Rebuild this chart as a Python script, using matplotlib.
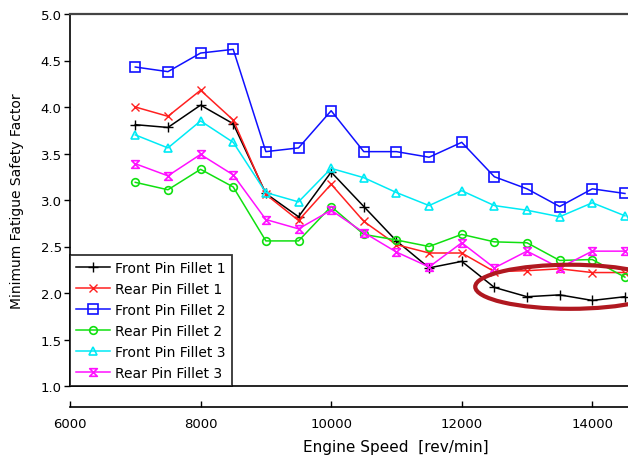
import matplotlib
matplotlib.use('Agg')
import matplotlib.pyplot as plt
from matplotlib.patches import Ellipse
from matplotlib.path import Path

plt.rcParams['font.family'] = ['DejaVu Sans']

# engine speed [rev/min] and minimum fatigue safety factor per fillet
rpm = [7000, 7500, 8000, 8500, 9000, 9500, 10000, 10500,
       11000, 11500, 12000, 12500, 13000, 13500, 14000, 14500]
front1 = [3.81, 3.78, 4.02, 3.82, 3.07, 2.82, 3.30, 2.93,
          2.56, 2.27, 2.34, 2.06, 1.96, 1.98, 1.92, 1.96]
rear1 = [4.00, 3.90, 4.18, 3.86, 3.06, 2.78, 3.17, 2.77,
         2.52, 2.43, 2.43, 2.23, 2.24, 2.26, 2.22, 2.22]
front2 = [4.43, 4.38, 4.58, 4.62, 3.52, 3.56, 3.96, 3.52,
          3.52, 3.46, 3.62, 3.25, 3.12, 2.93, 3.12, 3.07]
rear2 = [3.19, 3.11, 3.33, 3.14, 2.56, 2.56, 2.93, 2.63,
         2.57, 2.50, 2.63, 2.55, 2.54, 2.35, 2.36, 2.17]
front3 = [3.70, 3.56, 3.85, 3.62, 3.08, 2.98, 3.34, 3.24,
          3.08, 2.94, 3.10, 2.94, 2.89, 2.82, 2.97, 2.83]
rear3 = [3.39, 3.26, 3.49, 3.27, 2.79, 2.69, 2.89, 2.65,
         2.44, 2.28, 2.54, 2.27, 2.45, 2.27, 2.45, 2.45]

labels = ['Front Pin Fillet 1', 'Rear Pin Fillet 1', 'Front Pin Fillet 2',
          'Rear Pin Fillet 2', 'Front Pin Fillet 3', 'Rear Pin Fillet 3']
x_ticks = [6000, 8000, 10000, 12000, 14000]
y_ticks = [1.0, 1.5, 2.0, 2.5, 3.0, 3.5, 4.0, 4.5, 5.0]

# hourglass marker
hourglass = Path([(-1, 1), (1, 1), (-1, -1), (1, -1), (-1, 1)],
                 [Path.MOVETO, Path.LINETO, Path.LINETO, Path.LINETO, Path.CLOSEPOLY])

styles = [
    dict(color='black', marker='+', ms=7, mew=1.0),
    dict(color='#ff2020', marker='x', ms=6, mew=1.0),
    dict(color='#1010ff', marker='s', ms=6.5, mew=1.2, mfc='none'),
    dict(color='#10e010', marker='o', ms=5.5, mew=1.2, mfc='none'),
    dict(color='#00eaf5', marker='^', ms=6, mew=1.2, mfc='none'),
    dict(color='#ff10ff', marker=hourglass, ms=5.5, mew=1.2, mfc='none'),
]
series = [front1, rear1, front2, rear2, front3, rear3]

fig = plt.figure(figsize=(6.28, 4.56), dpi=100)
ax = fig.add_axes([70 / 628, 69 / 456, 568 / 628, 372 / 456])

for ys, st, lab in zip(series, styles, labels):
    ax.plot(rpm, ys, lw=1.1, label=lab, **st)

ax.set_xlim(6000, 14700)
ax.set_ylim(1.0, 5.0)
ax.set_yticks(y_ticks)
ax.set_yticklabels([f'{v:.1f}' for v in y_ticks])
ax.tick_params(axis='y', direction='out', length=4, width=1, labelsize=9.5, pad=2)
ax.tick_params(axis='x', bottom=False, labelbottom=False)
for s in ax.spines.values():
    s.set_linewidth(1.2)
ax.spines['top'].set_color('#444444')
ax.spines['top'].set_linewidth(1.6)

ax.set_ylabel('Minimum Fatigue Safety Factor', fontsize=10)
ax.yaxis.set_label_coords(-0.081, 0.5)

# detached x axis below the frame
sec = ax.secondary_xaxis(-0.056)
sec.set_xticks(x_ticks)
sec.set_xticklabels([str(v) for v in x_ticks])
sec.tick_params(direction='in', length=4, width=1, labelsize=9.5, pad=7)
sec.spines['bottom'].set_linewidth(1.2)

fig.text(396 / 628, 1 - 448 / 456, 'Engine Speed  [rev/min]',
         ha='center', va='center', fontsize=11)

leg = ax.legend(loc='lower left', bbox_to_anchor=(0, 0), borderaxespad=0,
                fontsize=10, frameon=True, fancybox=False, handlelength=2.4,
                labelspacing=0.5, handletextpad=0.4, borderpad=0.45)
leg.get_frame().set_edgecolor('black')
leg.get_frame().set_linewidth(1.3)

# highlight the low-safety region of front pin fillet 1
ax.add_patch(Ellipse((13663, 2.067), 2912, 0.474, fill=False,
                     edgecolor='#b01820', lw=3.0, zorder=5))

fig.savefig('out.png', dpi=100)
